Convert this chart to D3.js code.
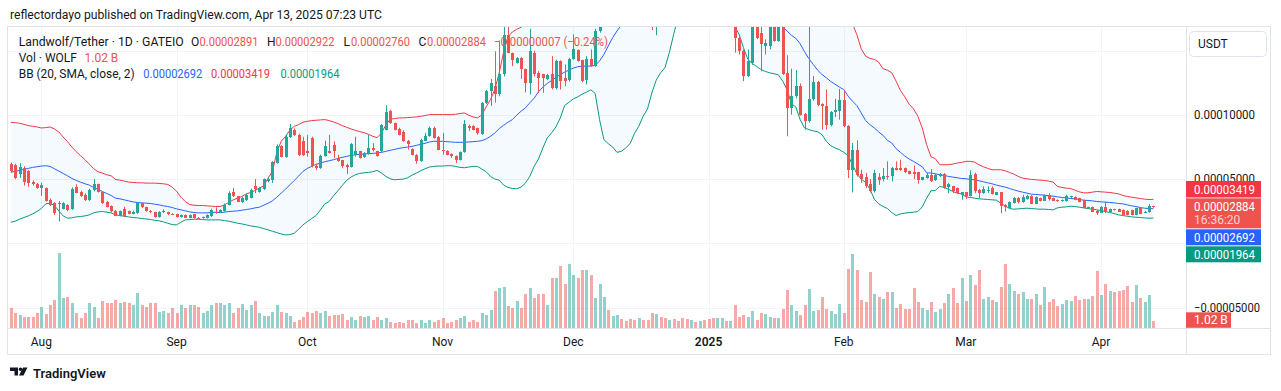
<!DOCTYPE html>
<html>
<head>
<meta charset="utf-8">
<script src="https://cdn.jsdelivr.net/npm/d3@7"></script>
<style>
  body { margin: 0; background: #fff; }
  svg { display: block; font-family: Roboto, "Liberation Sans", sans-serif; }
</style>
</head>
<body>
<svg id="chart" width="1281" height="391"></svg>
<script>
// all prices are in units of 1e-8 USDT, volume in billions of WOLF
const firstDay = new Date(Date.UTC(2024, 6, 25));
const lastDay = new Date(Date.UTC(2025, 3, 13));
const days = d3.utcDay.range(firstDay, d3.utcDay.offset(lastDay, 1));

const open = [
  6200,6100,5400,5900,5600,4750,4650,4300,4300,3400,3100,3100,2700,2950,2650,4400,4000,3800,3350,4150,4600,4000,3250,2900,
  2550,2150,2700,2500,2300,2350,3100,2800,2550,2400,2050,2400,2400,2300,2250,2050,2200,1950,2300,1980,1950,1950,2100,2450,
  2400,2500,3000,4000,3650,3200,3350,3550,4450,4000,4200,4820,4950,6250,7550,6700,8300,8850,8400,8000,7150,8200,5990,5850,6800,
  7160,7680,6650,6450,6100,5950,6900,7150,6700,6950,7450,7150,7150,8850,10300,9350,8900,8700,8000,7350,6900,6400,8000,8350,
  9000,8300,7300,7200,6950,6800,6500,7100,9100,9150,8950,8500,10900,11850,12250,11650,13150,16250,14800,14050,14450,13550,12500,14850,
  13300,13150,12810,13150,12110,14190,12890,12710,14370,15050,14270,12710,14370,13800,16530,19500,27000,24000,33000,38000,35000,33500,31000,29000,31500,
  29500,27500,24500,28000,27000,26000,28500,27500,26500,25500,24500,26000,25000,27000,25500,23500,21500,22500,23000,21000,21000,16000,14970,13020,
  14060,17500,16400,15360,15400,17500,15750,17300,13280,10550,11460,12240,10100,9500,11200,12600,10880,10730,9240,10230,10280,11150,9170,5730,
  7290,5420,5160,4640,4040,5160,5000,5260,5210,5860,5860,5860,5600,5520,5520,4950,5080,5340,4900,5210,5420,4380,4430,4300,3780,
  3960,3700,5420,4170,3900,4110,4300,3780,3960,3000,2730,3120,3520,3180,3440,3700,3070,3520,3330,3780,3520,3390,3340,3260,
  3580,3600,3500,3390,2750,2810,2550,2390,2860,2400,2650,2650,2600,2550,2600,2210,2730,2400,2400,2891
];
const high = [
  6300,6200,6250,6000,5700,4900,4700,4700,4350,3500,3200,3300,3200,3050,4350,4600,4100,3900,4250,5000,4650,4050,3300,2950,
  2600,2550,2850,2550,2550,3200,3150,2850,2600,2450,2500,2650,2450,2350,2300,2250,2250,2250,2300,2050,2080,2250,2700,2800,
  2650,3100,4050,4300,3700,3600,3850,4250,5000,4400,5050,5200,6400,7700,7650,8500,9300,8950,8550,8300,8450,8300,6200,6900,8000,
  8450,7940,6900,6500,6200,7800,8300,7200,7100,8450,7800,7200,9300,10750,10400,9400,9000,8800,8050,7400,6950,8150,8600,9100,
  9100,8350,8600,7250,7000,6850,7150,9600,9250,9200,9000,11000,11950,12800,14950,15800,17000,16900,14850,14500,14500,13600,16700,15000,
  13400,13200,13200,14580,14300,14250,13930,14450,16270,15100,14300,14580,15100,16700,21000,29000,30000,35000,42000,39000,36000,34000,32000,33000,32000,
  30000,28000,29000,29500,27500,29000,29000,28000,27000,26000,26500,26500,28000,27500,26000,24000,23000,24000,23500,22500,21500,16100,15100,15100,
  18000,18000,17300,15880,17400,17600,17800,17600,14650,13600,13490,12450,10150,16880,13020,12650,10900,11980,10300,11250,12030,11850,9200,7810,
  8020,5730,5470,5000,5730,5470,5860,6380,5950,6380,6510,5900,5650,6040,5560,5180,5470,5780,5400,5470,5470,4700,4480,4350,4000,
  4000,5680,5500,4250,4430,4430,4430,4000,4000,3050,3260,3600,3600,3780,3780,3750,3650,3560,3800,3900,3570,3420,3420,3780,
  3700,3650,3550,3400,2850,2850,2600,2900,3250,2700,2700,2700,2650,2580,2620,2760,2780,2520,3070,2922
];
const low = [
  5500,5000,5100,4500,4400,4500,4250,3700,3250,2900,2200,1700,2650,2500,2600,3900,3600,3300,3300,4050,3950,3050,2800,2400,
  2100,2100,2050,2250,2250,2300,2750,2450,2350,2000,2000,2350,2200,2200,2000,2000,1980,1950,1930,1880,1920,1930,2050,2300,
  2350,2450,2950,3600,3200,3150,3300,3500,3900,3950,4150,4750,4700,6200,6700,6650,8200,8350,6800,6800,6750,5900,5700,5800,6750,
  7000,6640,6350,5850,5400,5900,6750,6600,6650,6900,7150,6750,7100,8800,9300,8800,8400,7900,7300,6850,6200,6350,7950,8300,
  8150,7250,6900,6850,6650,6250,6450,7050,8750,8800,8450,8450,10850,10700,10950,11450,13000,14800,13800,14000,12800,11750,11600,13000,
  11700,11720,12700,11980,11980,11980,12240,12600,14300,14150,12550,12370,13750,13750,16400,19000,23000,23500,32000,33000,32000,30000,28000,28500,28000,
  26000,16600,16200,26000,25000,25500,27000,26000,25000,24000,24000,24500,24500,25000,23000,21000,17300,22000,20000,19500,14850,14700,12630,12950,
  13900,15900,13400,14710,15100,15700,15700,13100,8330,10020,11300,9950,8850,9400,11100,10680,8850,8850,9110,9840,9630,9050,5080,3960,
  5200,4690,4300,3960,3960,4560,4820,4950,4820,5680,5650,5470,5370,5000,4640,4900,5030,4780,4850,5150,4250,3900,3900,3850,3390,
  3460,3650,3900,3520,3850,3910,3800,3750,2340,2470,2700,3100,3100,3150,3400,3050,3050,3260,3300,3330,3300,3230,3260,3240,
  3500,3350,3200,2700,2700,2450,2210,2350,2350,2380,2550,2450,2180,2180,2180,2180,2260,2380,2380,2760
];
const close = [
  5650,5100,5950,4800,4700,4600,4300,4550,3300,3000,2350,3150,3100,2600,4250,3950,3700,3350,4150,4600,4000,3150,2850,2500,
  2150,2500,2100,2300,2450,3100,2800,2500,2400,2050,2450,2550,2250,2250,2050,2200,2000,2200,1950,1920,2050,2200,2600,2350,
  2600,3000,3950,3700,3250,3550,3800,4150,4200,4300,5000,5000,6350,7600,6750,8300,9000,8400,6900,6900,7050,5990,5860,6800,7600,
  7030,7160,6400,6000,5950,7700,7150,6650,7000,7400,7300,6800,9250,10200,9350,8850,8450,7950,7700,6900,6400,8050,8350,8950,
  8200,7300,7150,6900,6800,6450,7100,9300,8950,8850,8600,10900,11850,12500,11650,13150,16200,14850,14300,14450,13550,12500,14950,13150,
  12900,12890,13070,12110,14190,12630,12630,14370,15150,14190,12630,14370,13800,16530,19500,27000,24000,33000,38000,35000,33500,31000,29000,31500,29500,
  27500,24500,28000,27000,26000,28500,27500,26500,25500,24500,26000,25000,27000,25500,23500,21500,22500,23000,21000,21500,16000,14970,13020,14200,
  17500,16000,15500,15620,16900,15750,17200,13150,10550,11460,12240,10030,9500,11200,12600,10800,10730,9240,10200,10360,11150,9110,5730,7290,
  5340,5000,4500,4040,5470,4900,5260,5160,5860,5730,5680,5520,5420,5420,4950,5130,5340,4820,5340,5420,4300,4640,4040,3900,3960,
  3650,5340,4040,3910,4220,4170,3850,3960,2940,2810,3180,3520,3180,3570,3700,3070,3590,3330,3780,3440,3330,3260,3390,3650,
  3650,3390,3250,2730,2810,2470,2340,2860,2400,2650,2600,2470,2210,2210,2210,2730,2290,2470,2910,2884
];
const volume = [
  2.9,2.1,1.85,1.6,1.6,1.6,2.1,3.0,2.0,3.2,3.9,10.5,4.2,4.4,3.5,2.1,1.4,2.1,3.5,3.0,1.4,3.8,3.5,3.6,
  3.9,3.6,3.7,3.6,3.2,5.0,3.2,3.0,3.6,3.5,2.3,2.5,2.1,2.8,2.2,3.2,2.8,3.2,3.2,3.0,2.1,2.5,3.2,3.6,
  3.6,3.2,3.6,2.2,2.9,3.4,2.6,3.2,3.8,2.2,1.7,1.7,2.3,3.2,2.3,2.1,1.7,0.9,1.2,1.6,2.3,2.1,2.5,2.2,2.5,
  1.7,1.85,1.85,1.95,1.25,1.6,1.25,1.7,1.6,1.7,1.15,1.6,1.15,1.5,0.9,0.8,0.9,0.8,1.15,1.15,0.7,1.15,0.7,1.25,
  0.9,1.25,1.4,0.7,0.9,1.25,1.4,1.7,0.9,1.15,0.9,2.1,1.85,2.55,5.2,5.65,5.8,3.1,2.9,3.8,2.9,4.8,5.65,4.2,
  4.75,4.75,3.25,6.95,7.05,8.65,6.25,8.9,7.4,7.05,8.1,8.1,7.4,4.25,6.25,4.4,2.55,1.7,1.85,1.3,1.0,1.3,1.15,1.5,1.15,
  1.25,2.1,2.0,1.6,1.4,1.15,1.3,1.0,1.4,1.3,1.15,0.9,1.0,1.25,1.3,1.5,1.5,1.5,1.0,1.0,3.25,1.6,1.85,1.6,
  2.4,1.15,2.1,1.95,1.6,1.5,1.5,2.65,5.4,3.25,2.4,1.85,3.25,5.55,2.4,2.55,4.4,2.65,2.4,2.0,3.4,2.2,8.25,10.3,
  8.1,3.95,3.7,7.8,4.75,4.4,4.05,5.1,5.1,2.85,3.45,2.65,2.65,5.65,3.7,2.85,2.55,3.7,2.25,2.65,3.55,4.75,5.65,3.55,7.05,
  3.8,7.4,6.0,8.1,4.05,4.4,3.95,3.7,5.8,8.9,6.15,5.2,4.75,5.1,4.05,4.05,4.85,3.25,5.8,3.65,4.05,3.15,3.45,3.95,
  3.8,4.5,3.95,4.05,4.05,4.5,8.0,4.6,6.25,5.2,5.1,5.2,5.4,5.9,3.7,6.0,4.25,3.65,4.65,1.02
];
// Bollinger Bands (20, SMA, close, 2)
const bbUpper = [
  9426,9400,9348,9270,9166,9114,9062,8984,9010,9062,8906,8671,8281,7916,7500,7135,6822,6510,6171,5807,5573,5468,5338,5260,
  4974,4922,4843,4765,4739,4713,4713,4687,4687,4687,4661,4635,4583,4375,4062,3594,3255,3021,2968,2942,2942,2916,2890,2864,
  2864,2995,3177,3385,3515,3646,3854,3958,4114,4297,4479,5078,5599,7083,7942,8333,8802,9114,9244,9426,9505,9557,9583,9609,9635,
  9557,9453,9322,9166,9036,8906,8802,8697,8619,8489,8333,8229,8593,9218,9661,9713,9765,9765,9791,9817,9843,9895,9947,10025,
  10025,10025,10025,10025,10025,10051,10103,10155,9973,9843,9765,9999,10624,11197,12004,13280,14895,16093,16457,16666,16822,17100,17800,18400,
  18800,19000,19100,19200,19300,19300,19300,19400,19500,19500,19400,19300,19300,19800,21000,24000,27000,31000,36000,39000,41000,42000,43000,44000,45000,
  45500,46000,46000,45500,45000,44000,42000,40000,38000,37000,36000,35000,34500,34000,33500,33000,32500,32000,31500,31000,31000,31000,31500,32000,
  32000,31500,31000,30500,30000,29500,29000,29000,29500,29000,28000,27000,26000,25000,24000,23000,22000,21000,20000,19200,18600,18000,17600,17100,
  16249,15155,14583,14400,14322,14114,13593,13488,13280,12630,11900,11406,10833,10468,9895,8984,7682,6744,6588,6119,6119,6119,6171,6250,6302,
  6380,6380,6328,6119,5963,5833,5729,5729,5729,5651,5520,5390,5208,5078,5026,4974,4948,4922,4896,4843,4765,4427,4349,4297,
  4271,4140,4010,3932,3932,3984,4036,4010,3984,3958,3906,3854,3724,3646,3594,3541,3489,3437,3411,3419
];
const bbMid = [
  5547,5599,5677,5755,5833,5911,5963,6015,6041,5989,5807,5625,5442,5260,5052,4896,4765,4635,4531,4349,4192,4036,3880,3724,
  3515,3463,3385,3307,3229,3177,3151,3125,3099,3047,2995,2916,2864,2786,2682,2604,2526,2448,2396,2370,2370,2370,2396,2422,
  2396,2422,2474,2500,2526,2578,2630,2682,2760,2812,2968,3125,3307,3594,3906,4218,4557,4896,5234,5599,5833,5989,6146,6250,6354,
  6432,6510,6614,6692,6770,6848,6900,6927,6953,6979,7005,7031,7083,7161,7239,7317,7395,7447,7500,7552,7630,7708,7786,7890,
  7942,7942,7942,7916,7890,7864,7864,7864,7890,7916,7942,7994,8125,8333,8593,8932,9192,9426,9635,9973,10286,10546,10937,11300,
  11800,12161,12447,12682,12916,13150,13332,13488,13645,13749,13801,13801,13801,13853,14192,14713,15364,16015,16535,17000,17800,18600,19400,20200,21000,
  21700,22300,22900,23500,24000,24500,25000,25500,26000,26400,26700,27000,27200,27300,27300,27200,27000,26700,26300,25800,25200,24500,23800,23000,
  22200,21400,20600,19800,19000,18300,17600,16874,16535,16197,15963,15546,14921,14374,13931,13488,13150,12890,12604,12395,12161,11979,11458,11067,
  10728,10155,9557,9244,8984,8671,8411,8020,7812,7369,7083,6796,6562,6380,6171,5963,5494,5468,5416,5338,5286,5208,5156,5104,5052,
  5026,4974,4948,4869,4791,4713,4635,4531,4453,4375,4271,4166,4062,3984,3906,3828,3802,3776,3750,3698,3672,3620,3567,3541,
  3489,3463,3411,3359,3333,3307,3255,3229,3203,3177,3151,3099,3073,2995,2916,2864,2786,2734,2708,2692
];
const bbLower = [
  1640,1719,1875,2005,2135,2292,2474,2708,3073,3125,2943,2526,2135,1953,1979,2057,2083,2135,2213,2370,2448,2474,2422,2370,
  2213,2161,2109,2057,2005,1979,1927,1901,1849,1797,1745,1667,1562,1458,1432,1640,1823,1849,1875,1875,1849,1823,1823,1823,
  1823,1771,1719,1640,1562,1510,1432,1354,1302,1250,1146,1042,937,833,729,651,677,781,1094,1432,1693,1927,2161,2604,3073,
  3255,3698,4088,4505,4896,5156,5338,5442,5494,5520,5573,5677,5468,5208,5026,4948,4974,5000,5104,5312,5468,5651,5807,5937,
  5989,6015,6015,6041,6041,5989,5911,5885,5937,5989,5989,5781,5573,5208,5000,4922,4531,4349,4271,4245,4375,4687,5208,5989,
  6562,7421,8203,8593,9062,9765,10728,10989,11249,11406,11614,11770,11953,11666,9635,8072,7760,7500,7083,7161,7421,7760,8541,9114,9895,
  10468,11718,12708,13280,13671,14843,16275,17600,18500,19200,19800,20200,20500,20600,20500,20200,19800,19200,18500,17700,16874,16275,15234,14322,
  14010,13775,13541,13384,13280,13202,13124,12630,11979,10859,10624,9635,8984,8854,8750,8697,8463,7942,7604,7421,7291,7083,6822,6119,
  5416,5000,4739,4218,3437,3073,2864,2708,2396,2161,2292,2344,2396,2422,2474,2838,3515,4088,4114,4427,4349,4218,4036,3906,3854,
  3620,3567,3515,3463,3437,3411,3385,3359,3125,2916,2708,2656,2682,2708,2734,2708,2682,2656,2656,2630,2604,2760,2812,2838,
  2890,2864,2812,2760,2708,2656,2604,2552,2474,2396,2317,2213,2161,2109,2057,2031,2005,1979,1953,1964
];
const priceTicks = [-5000, 0, 5000, 10000, 15000];
const priceLabels = [-5000, 5000, 10000];

const UP = '#26a69a', DOWN = '#ef5350';
const TXT = '#131722';
const fmt = (v) => (v < 0 ? '\u2212' : '') + (Math.abs(v) * 1e-8).toFixed(8);

const svg = d3.select('#chart');
const pane = { left: 8, right: 1186, top: 27, bottom: 328.5 };

const x = d3.scaleUtc().domain([firstDay, lastDay]).range([10.8, 1153.4]);
const y = d3.scaleLinear().domain([0, 15000]).range([243.3, 50.7]);
const yVol = d3.scaleLinear().domain([0, d3.max(volume)]).range([pane.bottom, pane.bottom - 75.6]);

const data = days.map((d, i) => ({
  date: d, o: open[i], h: high[i], l: low[i], c: close[i], v: volume[i],
  up: bbUpper[i], mid: bbMid[i], lo: bbLower[i]
}));

svg.append('defs').append('clipPath').attr('id', 'paneClip')
  .append('rect')
  .attr('x', pane.left).attr('y', pane.top)
  .attr('width', pane.right - pane.left).attr('height', pane.bottom - pane.top);

// header
svg.append('text').attr('x', 10).attr('y', 19)
  .attr('font-size', 12.5).attr('fill', TXT)
  .attr('textLength', 372).attr('lengthAdjust', 'spacingAndGlyphs')
  .text('reflectordayo published on TradingView.com, Apr 13, 2025 07:23 UTC');

// grid
const grid = svg.append('g').attr('stroke', '#f0f3fa').attr('stroke-width', 1);
priceTicks.forEach((t) => {
  const yy = Math.round(y(t)) + 0.5;
  grid.append('line').attr('x1', pane.left).attr('x2', pane.right).attr('y1', yy).attr('y2', yy);
});
const months = d3.utcMonth.range(new Date(Date.UTC(2024, 7, 1)), new Date(Date.UTC(2025, 4, 1)));
months.forEach((m) => {
  const xx = Math.round(x(m)) + 0.5;
  grid.append('line').attr('x1', xx).attr('x2', xx).attr('y1', pane.top).attr('y2', pane.bottom);
});

const plot = svg.append('g').attr('clip-path', 'url(#paneClip)');

// band fill
plot.append('path').datum(data)
  .attr('fill', 'rgba(33,150,243,0.05)')
  .attr('d', d3.area().x((d) => x(d.date)).y0((d) => y(d.lo)).y1((d) => y(d.up)));

// volume
plot.append('g').selectAll('rect').data(data).join('rect')
  .attr('x', (d) => Math.round(x(d.date)) - 1)
  .attr('width', 3)
  .attr('y', (d) => yVol(d.v))
  .attr('height', (d) => pane.bottom - yVol(d.v))
  .attr('fill', (d) => d.c >= d.o ? 'rgba(38,166,154,0.5)' : 'rgba(239,83,80,0.5)')
  .attr('shape-rendering', 'crispEdges');

// band lines
[['up', '#f23645'], ['mid', '#2962ff'], ['lo', '#089981']].forEach(([k, col]) => {
  plot.append('path').datum(data)
    .attr('fill', 'none').attr('stroke', col).attr('stroke-width', 1)
    .attr('d', d3.line().x((d) => x(d.date)).y((d) => y(d[k])));
});

// candles
const candles = plot.append('g').selectAll('g').data(data).join('g')
  .attr('fill', (d) => d.c >= d.o ? UP : DOWN)
  .attr('stroke', (d) => d.c >= d.o ? UP : DOWN);
candles.append('line')
  .attr('x1', (d) => Math.round(x(d.date)) + 0.5)
  .attr('x2', (d) => Math.round(x(d.date)) + 0.5)
  .attr('y1', (d) => y(d.h)).attr('y2', (d) => y(d.l))
  .attr('stroke-width', 1);
candles.append('rect')
  .attr('stroke', 'none')
  .attr('x', (d) => Math.round(x(d.date)) - 1)
  .attr('width', 3)
  .attr('y', (d) => Math.min(y(d.o), y(d.c)))
  .attr('height', (d) => Math.max(1, Math.abs(y(d.o) - y(d.c))))
  .attr('shape-rendering', 'crispEdges');

// frame and separators
const frame = svg.append('g').attr('stroke', '#e0e3eb').attr('fill', 'none');
frame.append('rect').attr('x', 7.5).attr('y', 26.5).attr('width', 1263).attr('height', 328);
frame.append('line').attr('x1', pane.right + 0.5).attr('x2', pane.right + 0.5).attr('y1', 26.5).attr('y2', 354.5);
frame.append('line').attr('x1', 7.5).attr('x2', 1270.5).attr('y1', pane.bottom).attr('y2', pane.bottom);

// legend
const last = data[data.length - 1];
const legend = svg.append('g').attr('font-size', 12);
function seg(xx, yy, txt, col, w) {
  const t = legend.append('text').attr('x', xx).attr('y', yy).attr('fill', col).text(txt);
  if (w) t.attr('textLength', w).attr('lengthAdjust', 'spacingAndGlyphs');
}
const chg = last.c - last.o;
const chgCol = chg >= 0 ? UP : DOWN;
seg(18.7, 46, 'Landwolf/Tether \u00b7 1D \u00b7 GATEIO', TXT, 165);
seg(191, 46, 'O', TXT); seg(199.5, 46, fmt(last.o), chgCol, 59);
seg(267, 46, 'H', TXT); seg(275.5, 46, fmt(last.h), chgCol, 59);
seg(343.5, 46, 'L', TXT); seg(351, 46, fmt(last.l), chgCol, 59);
seg(418.5, 46, 'C', TXT); seg(427, 46, fmt(last.c), chgCol, 59);
seg(494, 46, `${fmt(chg)} (${chg < 0 ? '\u2212' : '+'}${Math.abs(chg / last.o * 100).toFixed(2)}%)`, chgCol, 114);
seg(18.7, 62, 'Vol \u00b7 WOLF', TXT);
seg(84.5, 62, `${last.v.toFixed(2)} B`, chgCol);
seg(18.7, 78, 'BB (20, SMA, close, 2)', TXT, 116);
seg(143.3, 78, fmt(last.mid), '#2962ff', 59);
seg(211, 78, fmt(last.up), '#f23645', 59);
seg(280.5, 78, fmt(last.lo), '#089981', 59);

// price axis labels
const axisG = svg.append('g').attr('font-size', 12).attr('fill', TXT);
priceLabels.forEach((t) => {
  axisG.append('text').attr('x', 1194).attr('y', y(t)).attr('dy', '0.35em')
    .attr('textLength', t < 0 ? 66 : 61).attr('lengthAdjust', 'spacingAndGlyphs')
    .text(fmt(t));
});

// USDT button
svg.append('rect').attr('x', 1189.5).attr('y', 31.5).attr('width', 77).attr('height', 25).attr('rx', 4)
  .attr('fill', '#fff').attr('stroke', '#e0e3eb');
svg.append('text').attr('x', 1198).attr('y', 48).attr('font-size', 12).attr('fill', TXT).text('USDT');

// price label boxes
function box(y0, h, col, lines, w = 75) {
  svg.append('rect').attr('x', 1186).attr('y', y0).attr('width', w).attr('height', h).attr('fill', col);
  lines.forEach(([txt, dy, op, tw]) => {
    const t = svg.append('text').attr('x', 1194).attr('y', y0 + dy).attr('font-size', 12)
      .attr('fill', '#fff').attr('fill-opacity', op).text(txt);
    if (tw) t.attr('textLength', tw).attr('lengthAdjust', 'spacingAndGlyphs');
  });
}
box(181, 16.5, '#f23645', [[fmt(last.up), 12.5, 1, 61]]);
box(198.3, 30, DOWN, [[fmt(last.c), 12.5, 1, 61], ['16:36:20', 26, 0.75]]);
box(229.3, 16, '#2962ff', [[fmt(last.mid), 12.5, 1, 61]]);
box(246.3, 16, '#089981', [[fmt(last.lo), 12.5, 1, 61]]);
box(312.3, 15.5, DOWN, [[`${last.v.toFixed(2)} B`, 12, 1]], 45);

// time axis
const timeG = svg.append('g').attr('font-size', 12).attr('fill', TXT).attr('text-anchor', 'middle');
months.forEach((m) => {
  const isYear = m.getUTCMonth() === 0;
  timeG.append('text').attr('x', x(m)).attr('y', 345.5)
    .attr('font-weight', isYear ? 600 : 400)
    .text(isYear ? d3.utcFormat('%Y')(m) : d3.utcFormat('%b')(m));
});

// TradingView mark
const logo = svg.append('g').attr('fill', TXT);
logo.append('path').attr('d', 'M10 367.5h8v8h-3.5v-4.5H10z');
logo.append('circle').attr('cx', 20.5).attr('cy', 369.3).attr('r', 1.8);
logo.append('path').attr('d', 'M23 367.5h4.5l-4 8h-4.5z');
svg.append('text').attr('x', 33).attr('y', 378).attr('font-size', 13).attr('font-weight', 600)
  .attr('fill', TXT).text('TradingView');
</script>
</body>
</html>
